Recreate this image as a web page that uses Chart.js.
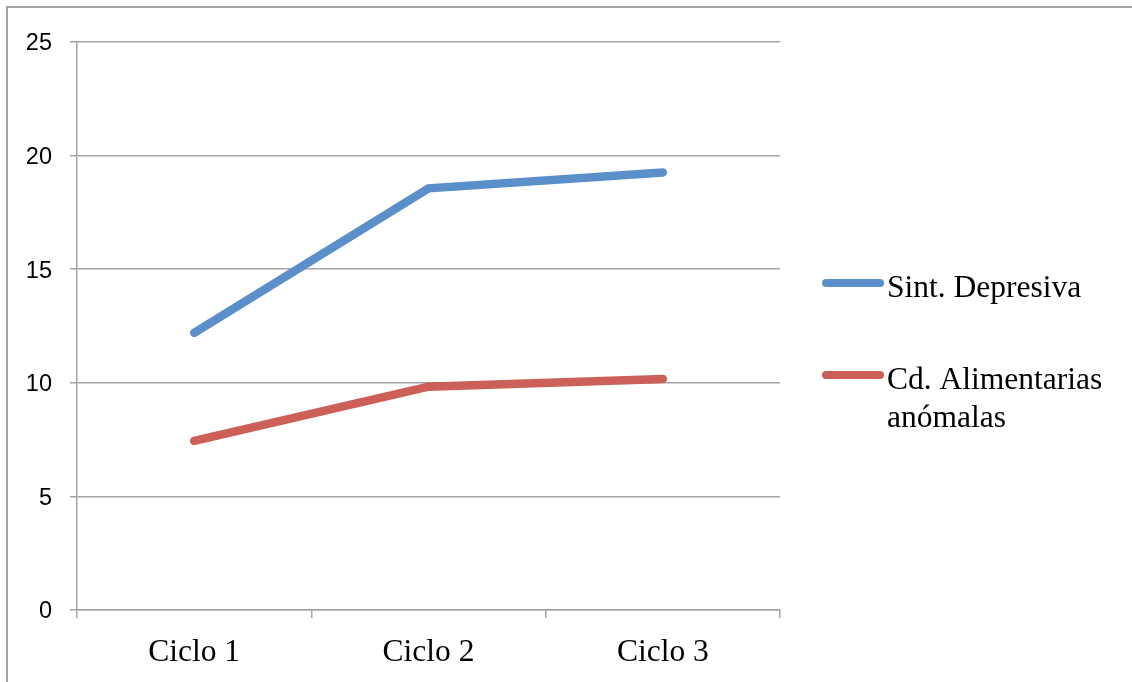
<!DOCTYPE html>
<html>
<head>
<meta charset="utf-8">
<script src="https://cdn.jsdelivr.net/npm/chart.js@4/dist/chart.umd.min.js"></script>
<style>
  html, body { margin: 0; padding: 0; background: #ffffff; }
  #wrap { width: 1132px; height: 682px; position: relative; }
</style>
</head>
<body>
<div id="wrap"><canvas id="c" width="1132" height="682"></canvas></div>
<script>
// Categories and series
const ciclos = ['Ciclo 1', 'Ciclo 2', 'Ciclo 3'];
const sintDepresiva = [12.2, 18.56, 19.26];
const cdAlimentarias = [7.44, 9.83, 10.17];
const seriesNames = ['Sint. Depresiva', 'Cd. Alimentarias anómalas'];
const seriesColors = ['#5b8fca', '#cc5f57'];

const gridColor = '#a3a3a3';
const serif = '"Liberation Serif", "Times New Roman", serif';

// Outer frame around the chart
const framePlugin = {
  id: 'frame',
  beforeDraw(chart) {
    const ctx = chart.ctx;
    ctx.save();
    ctx.fillStyle = '#ffffff';
    ctx.fillRect(0, 0, chart.width, chart.height);
    ctx.strokeStyle = '#a6a6a6';
    ctx.lineWidth = 2;
    ctx.strokeRect(7, 7, chart.width + 20, chart.height + 20);
    ctx.restore();
  }
};

// Legend on the right with word-wrapped labels
const sideLegend = {
  id: 'sideLegend',
  afterDraw(chart) {
    const ctx = chart.ctx;
    const area = chart.chartArea;
    const lineX0 = area.right + 46;
    const lineX1 = lineX0 + 54;
    const textX = lineX1 + 7;
    const maxW = 236;
    const rowY = [283, 375];
    const lineH = 38;
    ctx.save();
    ctx.font = '31.5px ' + serif;
    ctx.textBaseline = 'alphabetic';
    ctx.textAlign = 'left';
    chart.data.datasets.forEach((ds, i) => {
      const y = rowY[i];
      ctx.strokeStyle = ds.borderColor;
      ctx.lineWidth = 8;
      ctx.lineCap = 'round';
      ctx.beginPath();
      ctx.moveTo(lineX0, y);
      ctx.lineTo(lineX1, y);
      ctx.stroke();
      // wrap words
      const words = ds.label.split(' ');
      const lines = [];
      let cur = '';
      words.forEach(w => {
        const test = cur ? cur + ' ' + w : w;
        if (ctx.measureText(test).width > maxW && cur) {
          lines.push(cur);
          cur = w;
        } else {
          cur = test;
        }
      });
      if (cur) lines.push(cur);
      ctx.fillStyle = '#000000';
      lines.forEach((ln, k) => {
        ctx.fillText(ln, textX, y + 14 + k * lineH);
      });
    });
    ctx.restore();
  }
};

new Chart(document.getElementById('c'), {
  type: 'line',
  data: {
    labels: ciclos,
    datasets: [
      {
        label: seriesNames[0],
        data: sintDepresiva,
        borderColor: seriesColors[0],
        backgroundColor: seriesColors[0],
        borderWidth: 8.5,
        borderCapStyle: 'round',
        borderJoinStyle: 'miter',
        pointRadius: 0,
        tension: 0,
        fill: false
      },
      {
        label: seriesNames[1],
        data: cdAlimentarias,
        borderColor: seriesColors[1],
        backgroundColor: seriesColors[1],
        borderWidth: 8.5,
        borderCapStyle: 'round',
        borderJoinStyle: 'miter',
        pointRadius: 0,
        tension: 0,
        fill: false
      }
    ]
  },
  options: {
    responsive: false,
    animation: false,
    devicePixelRatio: 1,
    layout: { padding: { left: 0, top: 42, right: 352, bottom: 0 } },
    plugins: {
      legend: { display: false },
      tooltip: { enabled: false }
    },
    scales: {
      x: {
        offset: true,
        afterFit(scale) { scale.height = 72; },
        grid: {
          offset: true,
          drawOnChartArea: false,
          drawTicks: true,
          tickLength: 8,
          color: gridColor,
          lineWidth: 1.5
        },
        border: { display: true, color: gridColor, width: 1.5 },
        ticks: {
          color: '#000000',
          padding: 16,
          font: { family: serif, size: 31.5 },
          maxRotation: 0
        }
      },
      y: {
        min: 0,
        max: 25,
        afterFit(scale) { scale.width = 77; },
        grid: {
          color: gridColor,
          lineWidth: 1.5,
          drawTicks: true,
          tickLength: 7
        },
        border: { display: true, color: gridColor, width: 1.5 },
        ticks: {
          stepSize: 5,
          color: '#000000',
          padding: 18,
          labelOffset: 2,
          font: { family: '"Liberation Sans", Arial, sans-serif', size: 23.5 }
        }
      }
    }
  },
  plugins: [framePlugin, sideLegend]
});
</script>
</body>
</html>
